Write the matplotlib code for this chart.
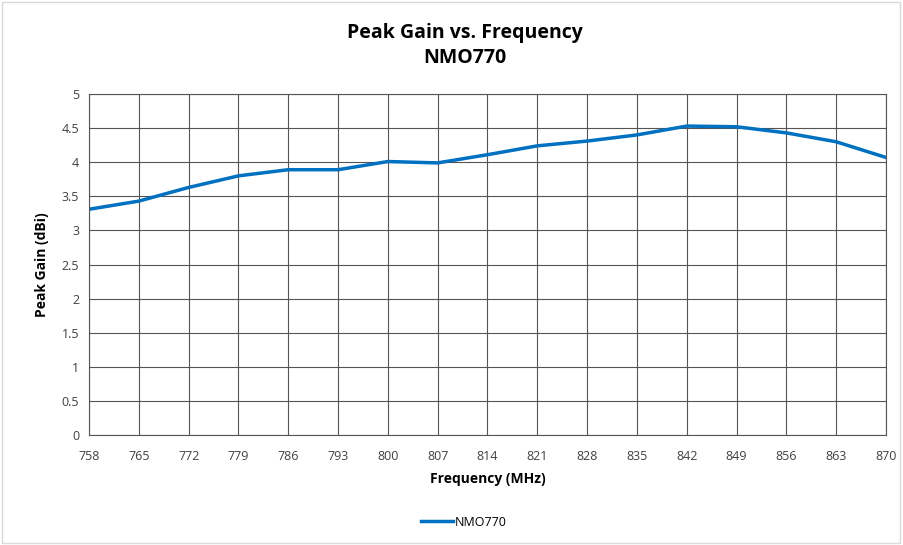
import matplotlib.pyplot as plt
from matplotlib.patches import Rectangle

freq = [758, 765, 772, 779, 786, 793, 800, 807, 814, 821, 828, 835, 842, 849, 856, 863, 870]
gain = [3.31, 3.43, 3.63, 3.80, 3.89, 3.89, 4.01, 3.99, 4.11, 4.24, 4.31, 4.40, 4.53, 4.52, 4.43, 4.30, 4.07]
y_ticks = [0, 0.5, 1, 1.5, 2, 2.5, 3, 3.5, 4, 4.5, 5]
y_labels = ["0", "0.5", "1", "1.5", "2", "2.5", "3", "3.5", "4", "4.5", "5"]

plt.rcParams['font.family'] = ['Open Sans', 'DejaVu Sans']

fig = plt.figure(figsize=(9.04, 5.45), dpi=100)
fig.patches.append(Rectangle((0.002, 0.004), 0.994, 0.992, transform=fig.transFigure,
                             fill=False, edgecolor='#d9d9d9', linewidth=1))
ax = fig.add_axes([0.0985, 0.2018, 0.8815, 0.6257])

ax.plot(freq, gain, color='#0070C0', linewidth=2.5, label='NMO770')
ax.set_xlim(758, 870)
ax.set_ylim(0, 5)
ax.set_xticks(freq)
ax.set_xticklabels([str(f) for f in freq], fontsize=9, color='#404040')
ax.set_yticks(y_ticks)
ax.set_yticklabels(y_labels, fontsize=9, color='#404040')
ax.tick_params(axis='x', length=0, pad=11)
ax.tick_params(axis='y', length=0, pad=7)
ax.grid(True, color='#555555', linewidth=0.8)
ax.set_axisbelow(True)
for s in ax.spines.values():
    s.set_color('#555555')
    s.set_linewidth(0.8)

ax.set_xlabel("Frequency (MHz)", fontsize=10, fontweight='bold', labelpad=6)
ax.set_ylabel("Peak Gain (dBi)", fontsize=10, fontweight='bold', labelpad=9)
fig.text(0.514, 0.94, "Peak Gain vs. Frequency", ha='center', va='center',
         fontsize=14, fontweight='bold')
fig.text(0.514, 0.893, "NMO770", ha='center', va='center',
         fontsize=14, fontweight='bold')

fig.legend(loc='center', bbox_to_anchor=(0.513, 0.042), frameon=False, fontsize=9,
           handlelength=2.6, handletextpad=0.1)

fig.savefig("out.png", dpi=100)
